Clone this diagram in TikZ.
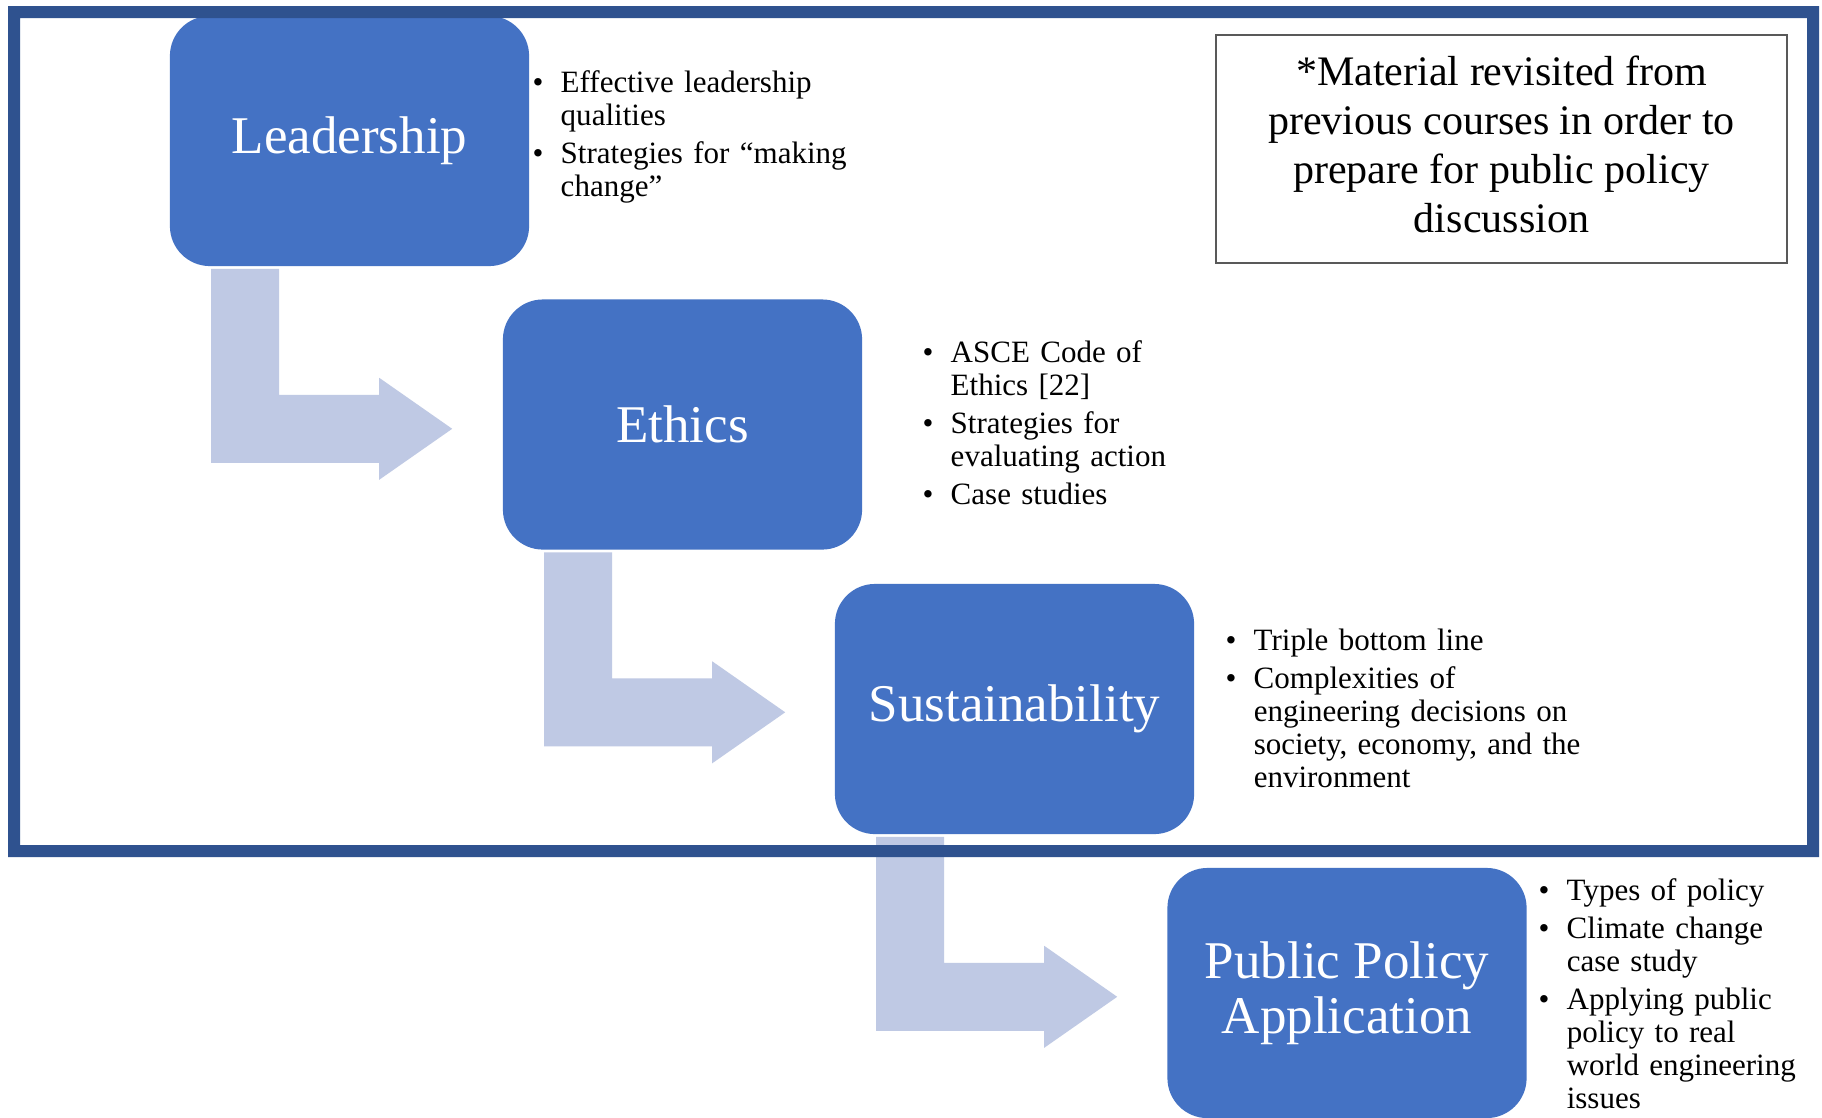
\documentclass[tikz,border=0pt]{standalone}
\usepackage{fontspec}
\setmainfont{Liberation Serif}
\usepackage{xcolor}
\usepackage{tikz}
\usetikzlibrary{positioning}

\definecolor{stageblue}{HTML}{4472C4}
\definecolor{frameblue}{HTML}{2F528F}
\definecolor{bendblue}{HTML}{BFC9E4}
\definecolor{notegray}{HTML}{595959}

\newcommand{\nl}{\hfil\break}
\newcommand{\bul}[1]{\hangindent=7.97pt\hangafter=1\noindent\makebox[7.97pt][l]{\textbullet}\strut#1\par\setlength{\parskip}{1.42pt}}

\tikzset{
  stage/.style={fill=stageblue, rounded corners=0.4cm, minimum width=3.59cm, minimum height=2.5cm,
    inner sep=0pt, text=white, align=center, font=\fontsize{15.08}{15.65}\selectfont},
  bullets/.style={anchor=north west, inner sep=0pt, text width=115pt,
    font=\fontsize{8.82}{9.39}\selectfont},
  bendarrow/.style={fill=bendblue},
  notebox/.style={draw=notegray, line width=0.55pt, minimum width=5.71cm, minimum height=2.28cm,
    inner sep=0pt, align=center, font=\fontsize{11.95}{13.94}\selectfont}
}

\begin{document}
\begin{tikzpicture}[x=0.01cm,y=-0.01cm]
                \useasboundingbox (0,0) rectangle (1822,1117);
                \fill[white] (0,0) rectangle (1822,1117);
                % stages
                \node[stage] (lead) at (349.5,141) {Leadership};
                \node[stage] (ethic) at (682.5,424.5) {Ethics};
                \node[stage] (sust) at (1014.5,709) {Sustainability};
                \node[stage] (policy) at (1347,993) {Public Policy\\Application};
                % bent arrows
                \foreach \src in {lead,ethic,sust}
                    \fill[bendarrow] ([shift={(42,2)}]\src.south west) -- ++(68,0) -- ++(0,126) -- ++(100,0)
                        -- ++(0,-17) -- ++(73,51) -- ++(-73,51) -- ++(0,-17) -- ++(-168,0) -- cycle;
                % topics
                \node[bullets] (leadlist) at (532,69) {\bul{Effective leadership\nl qualities}\bul{Strategies for “making\nl change”}};
                \node[bullets] (ethiclist) at (922,339) {\bul{ASCE Code of\nl Ethics [22]}\bul{Strategies for\nl evaluating action}\bul{Case studies}};
                \node[bullets] (sustlist) at (1225,627) {\bul{Triple bottom line}\bul{Complexities of\nl engineering decisions on\nl society, economy, and the\nl environment}};
                \node[bullets] (policylist) at (1538,877) {\bul{Types of policy}\bul{Climate change\nl case study}\bul{Applying public\nl policy to real\nl world engineering\nl issues}};
                \node[notebox] (note) at (1501.5,149) {\strut*Material revisited from\\previous courses in order to\\prepare for public policy\\discussion\strut};
                % frame round the revisited part
                \fill[frameblue, even odd rule] (8,6) rectangle (1819,857) (20,18) rectangle (1807,845);
            \end{tikzpicture}
\end{document}
